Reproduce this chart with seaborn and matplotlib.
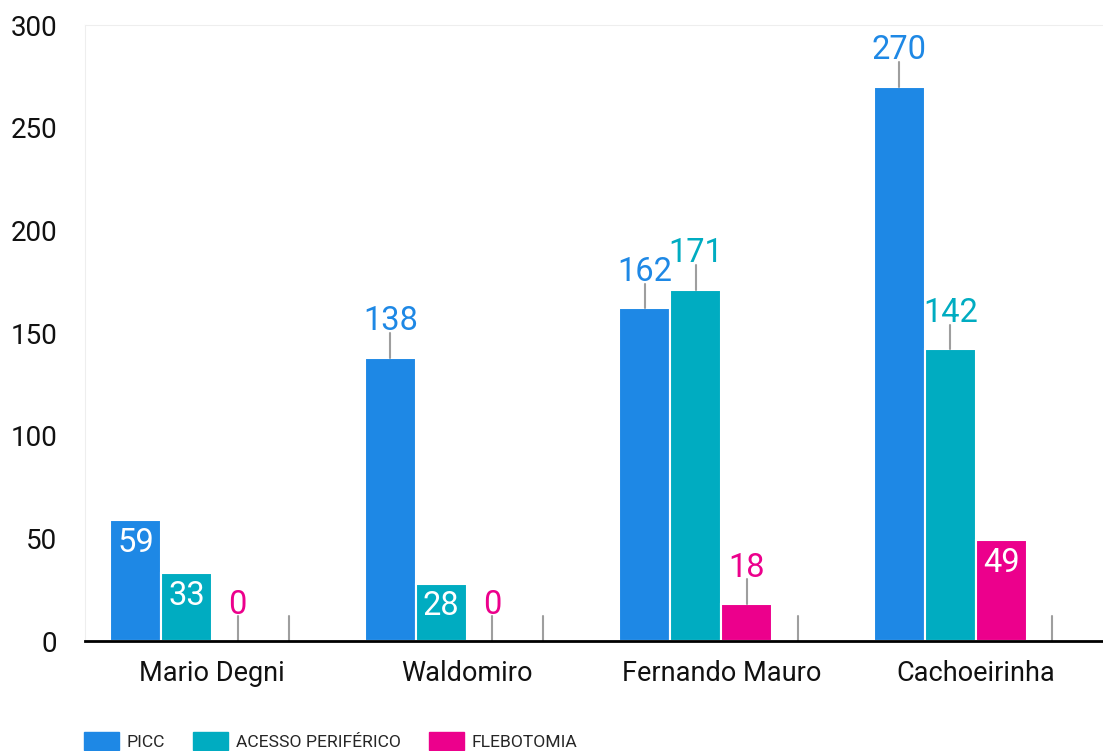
import matplotlib
matplotlib.use('Agg')
import matplotlib.pyplot as plt
import matplotlib.patches as mpatches
import pandas as pd
import seaborn as sns

# Dados
unidades = ['Mario Degni', 'Waldomiro', 'Fernando Mauro', 'Cachoeirinha']
series = ['PICC', 'ACESSO PERIFÉRICO', 'FLEBOTOMIA', '']
picc = [59, 138, 162, 270]
acesso = [33, 28, 171, 142]
flebotomia = [0, 0, 18, 49]
outros = [0, 0, 0, 0]
cores = ['#1e88e5', '#00acc1', '#ec008c', '#9e9e9e']

# rotulos que ficam dentro da barra (serie, unidade)
dentro = {('PICC', 'Mario Degni'), ('ACESSO PERIFÉRICO', 'Mario Degni'),
          ('ACESSO PERIFÉRICO', 'Waldomiro'), ('FLEBOTOMIA', 'Cachoeirinha')}

df = pd.DataFrame({
    'unidade': unidades * 4,
    'serie': [s for s in series for _ in unidades],
    'valor': picc + acesso + flebotomia + outros,
})

sns.set_style('white')
plt.rcParams['font.family'] = ['Roboto', 'DejaVu Sans']

fig = plt.figure(figsize=(11.03, 7.51), dpi=100)
ax = fig.add_axes([85 / 1103, 110 / 751, 1018 / 1103, 616 / 751])

sns.barplot(data=df, x='unidade', y='valor', hue='serie', hue_order=series,
            order=unidades, palette=cores, saturation=1, width=0.8,
            edgecolor='white', linewidth=1.5, legend=False, ax=ax)

ax.set_ylim(0, 300)
ax.set_yticks(range(0, 301, 50))
ax.set_xlabel('')
ax.set_ylabel('')
ax.tick_params(axis='y', length=0, pad=20, labelsize=20)
ax.tick_params(axis='x', length=0, pad=14, labelsize=19.5)
for lab in ax.get_yticklabels() + ax.get_xticklabels():
    lab.set_color('#111111')

ax.spines['bottom'].set_color('black')
ax.spines['bottom'].set_linewidth(2)
ax.spines['left'].set_color('#eeeeee')
ax.spines['top'].set_color('#eeeeee')
ax.spines['right'].set_visible(False)

# rotulos de valor
lider = 12  # comprimento da linha guia em unidades do eixo
for serie, cont, cor in zip(series, ax.containers, cores):
    for unidade, bar in zip(unidades, cont):
        v = bar.get_height()
        xc = bar.get_x() + bar.get_width() / 2
        if (serie, unidade) in dentro:
            ax.annotate(f'{v:.0f}', (xc, v), xytext=(0, -5), textcoords='offset points',
                        ha='center', va='top', color='white', fontsize=23.5)
            continue
        ax.plot([xc, xc], [v, v + lider], color='#9e9e9e', lw=1.5, zorder=1)
        if serie:
            ax.annotate(f'{v:.0f}', (xc, v + lider), xytext=(0, -3), textcoords='offset points',
                        ha='center', va='bottom', color=cor, fontsize=23.5)

ax.set_xlim(-0.5, len(unidades) - 0.5)

handles = [mpatches.Patch(color=c) for c in cores[:3]]
fig.legend(handles, series[:3], loc='center left', bbox_to_anchor=(84 / 1103, 10 / 751),
           ncol=3, frameon=False, fontsize=12.6, borderpad=0, borderaxespad=0,
           handlelength=2.0, handleheight=1.25, handletextpad=0.45, columnspacing=1.6)

fig.savefig('out.png', dpi=100)
